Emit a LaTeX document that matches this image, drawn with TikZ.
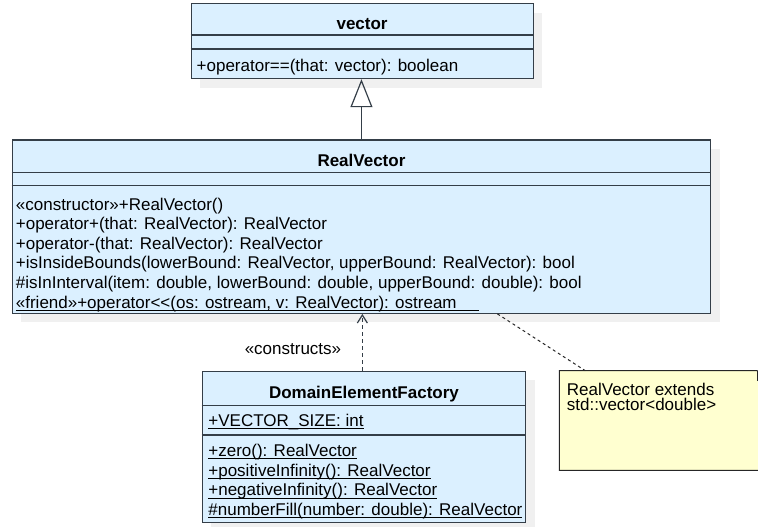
\documentclass[tikz,border=0pt]{standalone}
\usepackage{fontspec}
\setmainfont{Liberation Sans}
\usepackage{xcolor}
\definecolor{classfill}{RGB}{219,240,255}
\definecolor{classline}{RGB}{52,62,72}
\definecolor{shadowgray}{RGB}{240,240,240}
\definecolor{notefill}{RGB}{255,255,208}
\usetikzlibrary{arrows.meta,positioning,shadows}
% static members are underlined close to the baseline
\newcommand{\staticul}[1]{\setbox0\hbox{#1}\rlap{\rule[-2.6pt]{\wd0}{0.9pt}}\box0}

\begin{document}
\begin{tikzpicture}[x=1pt, y=-1pt,
    every node/.style={font=\fontsize{17}{19.6}\selectfont},
    umlclass/.style={rectangle, draw=classline, fill=classfill, line width=1.2pt, inner sep=0pt, anchor=north west,
        general shadow={shadow xshift=9pt, shadow yshift=-9pt, fill=shadowgray, draw=none}},
    sep/.style={draw=classline, line width=1.2pt},
    classtitle/.style={anchor=base, inner sep=0pt, font=\fontsize{17}{19.6}\selectfont\bfseries},
    member/.style={anchor=base west, inner sep=0pt},
    inherits/.style={draw=classline, line width=1.2pt, -{Triangle[open, length=28pt, width=22pt]}},
    depends/.style={draw=classline, line width=1.2pt, dash pattern=on 4pt off 3pt, -{Straight Barb[length=8pt, width=10pt]}},
    notelink/.style={draw=black!85, line width=1pt, dash pattern=on 3pt off 3pt},
    notebox/.style={fill=notefill, draw=black!85, line width=1pt}]

    \useasboundingbox (0,0) rectangle (758,527);

    % vector
    \node[umlclass, minimum width=342pt, minimum height=75pt] (vec) at (190.5,3) {};
    \draw[sep] ([yshift=-32pt]vec.north west) -- ([yshift=-32pt]vec.north east);
    \draw[sep] ([yshift=-46pt]vec.north west) -- ([yshift=-46pt]vec.north east);
    \node[classtitle] (vecname) at ([yshift=-27pt]vec.north) {vector};
    \node[member] (veceq) at ([xshift=6pt, yshift=-69pt]vec.north west) {+operator==(that: vector): boolean};

    % RealVector
    \node[umlclass, minimum width=698.3pt, minimum height=173.4pt] (realvec) at (11.7,139.3) {};
    \draw[sep] ([yshift=-33.4pt]realvec.north west) -- ([yshift=-33.4pt]realvec.north east);
    \draw[sep] ([yshift=-46.4pt]realvec.north west) -- ([yshift=-46.4pt]realvec.north east);
    \node[classtitle] (rvname) at ([yshift=-27pt]realvec.north) {RealVector};
    \node[member] (rvctor) at ([xshift=4pt, yshift=-70.7pt]realvec.north west) {«constructor»+RealVector()};
    \node[member] (rvplus) at ([yshift=-19.6pt]rvctor.base west) {+operator+(that: RealVector): RealVector};
    \node[member] (rvminus) at ([yshift=-19.6pt]rvplus.base west) {+operator-(that: RealVector): RealVector};
    \node[member] (rvbounds) at ([yshift=-19.6pt]rvminus.base west) {+isInsideBounds(lowerBound: RealVector, upperBound: RealVector): bool};
    \node[member] (rvinterval) at ([yshift=-19.6pt]rvbounds.base west) {\#isInInterval(item: double, lowerBound: double, upperBound: double): bool};
    \node[member] (rvfriend) at ([yshift=-19.6pt]rvinterval.base west) {\staticul{«friend»+operator<\kern0pt<(os: ostream, v: RealVector): ostream\hspace{22pt}}};

    % DomainElementFactory
    \node[umlclass, minimum width=323.3pt, minimum height=151pt] (factory) at (201.7,370.7) {};
    \draw[sep] ([yshift=-34.6pt]factory.north west) -- ([yshift=-34.6pt]factory.north east);
    \draw[sep] ([yshift=-64.3pt]factory.north west) -- ([yshift=-64.3pt]factory.north east);
    \node[classtitle] (dfname) at ([yshift=-27.6pt]factory.north) {DomainElementFactory};
    \node[member] (dfsize) at ([xshift=6.5pt, yshift=-56pt]factory.north west) {\staticul{+VECTOR\_SIZE: int}};
    \node[member] (dfzero) at ([xshift=6.5pt, yshift=-86pt]factory.north west) {\staticul{+zero(): RealVector}};
    \node[member] (dfpos) at ([yshift=-19.6pt]dfzero.base west) {\staticul{+positiveInfinity(): RealVector}};
    \node[member] (dfneg) at ([yshift=-19.6pt]dfpos.base west) {\staticul{+negativeInfinity(): RealVector}};
    \node[member] (dffill) at ([yshift=-19.6pt]dfneg.base west) {\staticul{\#numberFill(number: double): RealVector}};

    % Note
    \node[rectangle, inner sep=0pt, anchor=north west, minimum width=207.4pt, minimum height=99.3pt] (note) at (559.3,370.7) {};
    \path[notebox] (note.north west) -- ([xshift=-10pt]note.north east) -- ([yshift=-10pt]note.north east)
        -- (note.south east) -- (note.south west) -- cycle;
    \draw[notebox, fill=none] ([xshift=-10pt]note.north east) |- ([yshift=-10pt]note.north east);
    \node[member] (notetop) at ([xshift=7.4pt, yshift=-24.3pt]note.north west) {RealVector extends};
    \node[member] (notebot) at ([yshift=-15pt]notetop.base west) {std::vector<double>};

    % Connections
    \draw[inherits] (realvec.north) -- (realvec.north |- vec.south);
    \draw[depends] ([xshift=-1.6pt]factory.north) -- ([xshift=-1.6pt]factory.north |- realvec.south);
    \node[anchor=base, inner sep=0pt] (constructs) at ([xshift=-71pt, yshift=16pt]factory.north) {«constructs»};
    \draw[notelink] ([xshift=136pt]realvec.south) -- ([xshift=26pt]note.north west);
\end{tikzpicture}
\end{document}
